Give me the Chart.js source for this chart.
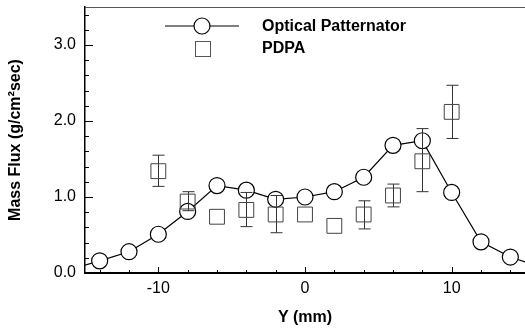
<!DOCTYPE html>
<html>
<head>
<meta charset="utf-8">
<script src="https://cdn.jsdelivr.net/npm/chart.js@4/dist/chart.umd.min.js"></script>
<style>
  html, body { margin: 0; padding: 0; background: #fff; }
  #wrap { width: 525px; height: 329px; position: relative; }
</style>
</head>
<body>
<div id="wrap"><canvas id="flux"></canvas></div>
<script>
// Optical patternator profile (line + circles)
const opticalY = [-16, -14, -12, -10, -8, -6, -4, -2, 0, 2, 4, 6, 8, 10, 12, 14, 16];
const opticalFlux = [0.05, 0.16, 0.28, 0.51, 0.81, 1.15, 1.09, 0.97, 1.0, 1.07, 1.26, 1.68, 1.74, 1.06, 0.41, 0.21, 0.08];

// PDPA measurements (squares + error bars)
const pdpaY = [-10, -8, -6, -4, -2, 0, 2, 4, 6, 8, 10];
const pdpaFlux = [1.34, 0.94, 0.74, 0.83, 0.77, 0.77, 0.62, 0.77, 1.02, 1.47, 2.12];
const pdpaHigh = [1.55, 1.07, null, 1.06, 1.02, null, null, 0.95, 1.17, 1.90, 2.47];
const pdpaLow = [1.14, 0.82, null, 0.61, 0.53, null, null, 0.58, 0.87, 1.07, 1.77];

// axis ticks
const xTicks = [-14, -12, -10, -8, -6, -4, -2, 0, 2, 4, 6, 8, 10, 12, 14];
const xLabels = [-10, 0, 10];
const yTicks = [0, 0.2, 0.4, 0.6, 0.8, 1, 1.2, 1.4, 1.6, 1.8, 2, 2.2, 2.4, 2.6, 2.8, 3, 3.2, 3.4];
const yLabels = [0, 1, 2, 3];

const FONT = "Arial, 'Liberation Sans', sans-serif";

// error bars drawn under the PDPA squares
const errorBars = {
    id: "errorBars",
    beforeDatasetDraw(chart, args) {
        if (args.index !== 0) return;
        const { ctx, scales: { x, y } } = chart;
        ctx.save();
        ctx.strokeStyle = "#333";
        ctx.lineWidth = 1;
        pdpaY.forEach((v, i) => {
            if (pdpaHigh[i] == null) return;
            const px = Math.round(x.getPixelForValue(v)) + 0.5;
            const top = y.getPixelForValue(pdpaHigh[i]);
            const bot = y.getPixelForValue(pdpaLow[i]);
            ctx.beginPath();
            ctx.moveTo(px, top);
            ctx.lineTo(px, bot);
            ctx.moveTo(px - 6, top);
            ctx.lineTo(px + 6, top);
            ctx.moveTo(px - 6, bot);
            ctx.lineTo(px + 6, bot);
            ctx.stroke();
        });
        ctx.restore();
    },
};

// inward tick marks + top frame + legend
const frame = {
    id: "frame",
    afterDraw(chart) {
        const { ctx, chartArea: a, scales: { x, y } } = chart;
        ctx.save();
        ctx.strokeStyle = "#000";
        ctx.lineWidth = 1;
        ctx.beginPath();
        x.ticks.forEach((t) => {
            const px = Math.round(x.getPixelForValue(t.value)) + 0.5;
            const len = xLabels.includes(t.value) ? 6 : 3;
            ctx.moveTo(px, a.bottom);
            ctx.lineTo(px, a.bottom - len);
        });
        y.ticks.forEach((t) => {
            const py = Math.round(y.getPixelForValue(t.value)) + 0.5;
            const len = yLabels.includes(t.value) ? 8 : 4;
            ctx.moveTo(a.left, py);
            ctx.lineTo(a.left + len, py);
        });
        ctx.stroke();

        ctx.strokeStyle = "#555";
        ctx.beginPath();
        ctx.moveTo(a.left, a.top + 0.5);
        ctx.lineTo(a.right, a.top + 0.5);
        ctx.stroke();

        // legend
        ctx.strokeStyle = "#000";
        ctx.lineWidth = 1.2;
        ctx.beginPath();
        ctx.moveTo(165, 26);
        ctx.lineTo(239, 26);
        ctx.stroke();
        ctx.fillStyle = "#fff";
        ctx.beginPath();
        ctx.arc(202, 26, 8, 0, Math.PI * 2);
        ctx.fill();
        ctx.stroke();
        ctx.strokeStyle = "#555";
        ctx.lineWidth = 1;
        ctx.strokeRect(195.5, 41.5, 15, 15);

        ctx.fillStyle = "#000";
        ctx.font = "bold 16px " + FONT;
        ctx.textBaseline = "middle";
        ctx.fillText("Optical Patternator", 262, 27);
        ctx.fillText("PDPA", 262, 49);
        ctx.restore();
    },
};

new Chart(document.getElementById("flux"), {
    type: "line",
    data: {
        datasets: [
            {
                label: "PDPA",
                data: pdpaY.map((v, i) => ({ x: v, y: pdpaFlux[i] })),
                showLine: false,
                pointStyle: "rect",
                pointRadius: 10.5,
                pointBorderColor: "#444",
                pointBackgroundColor: "rgba(255,255,255,0)",
                pointBorderWidth: 1,
                order: 0,
            },
            {
                label: "Optical Patternator",
                data: opticalY.map((v, i) => ({ x: v, y: opticalFlux[i] })),
                borderColor: "#000",
                borderWidth: 1.2,
                tension: 0,
                pointRadius: 8,
                pointBorderColor: "#000",
                pointBackgroundColor: "#fff",
                pointBorderWidth: 1.2,
                order: 1,
            },
        ],
    },
    options: {
        responsive: true,
        maintainAspectRatio: false,
        animation: false,
        events: [],
        layout: { autoPadding: false, padding: { top: 7, right: 0, left: 0, bottom: 0 } },
        plugins: { legend: { display: false }, tooltip: { enabled: false } },
        scales: {
            x: {
                type: "linear",
                min: -15,
                max: 15,
                afterBuildTicks: (s) => { s.ticks = xTicks.map((v) => ({ value: v })); },
                afterFit: (s) => {
                    s.height = 56;
                    s.paddingLeft = 0;
                    s.paddingRight = 0;
                },
                grid: { display: false, drawTicks: false },
                border: { display: true, color: "#000", width: 2 },
                ticks: {
                    autoSkip: false,
                    maxRotation: 0,
                    padding: 6,
                    color: "#000",
                    font: { family: FONT, size: 16 },
                    callback: (v) => (xLabels.includes(v) ? String(v) : ""),
                },
                title: {
                    display: true,
                    text: "Y (mm)",
                    color: "#000",
                    font: { family: FONT, size: 16, weight: "bold" },
                    padding: { top: 0, bottom: 2 },
                },
            },
            y: {
                min: 0,
                max: 3.5,
                afterBuildTicks: (s) => { s.ticks = yTicks.map((v) => ({ value: v })); },
                afterFit: (s) => {
                    s.width = 85;
                    s.paddingTop = 0;
                    s.paddingBottom = 0;
                },
                grid: { display: false, drawTicks: false },
                border: { display: true, color: "#000", width: 1.5 },
                ticks: {
                    autoSkip: false,
                    padding: 9,
                    color: "#000",
                    font: { family: FONT, size: 16 },
                    callback: (v) => (yLabels.includes(v) ? v.toFixed(1) : ""),
                },
                title: {
                    display: true,
                    text: "Mass Flux (g/cm²sec)",
                    color: "#000",
                    font: { family: FONT, size: 16, weight: "bold" },
                    padding: { top: 6, bottom: 0 },
                },
            },
        },
    },
    plugins: [errorBars, frame],
});
</script>
</body>
</html>
